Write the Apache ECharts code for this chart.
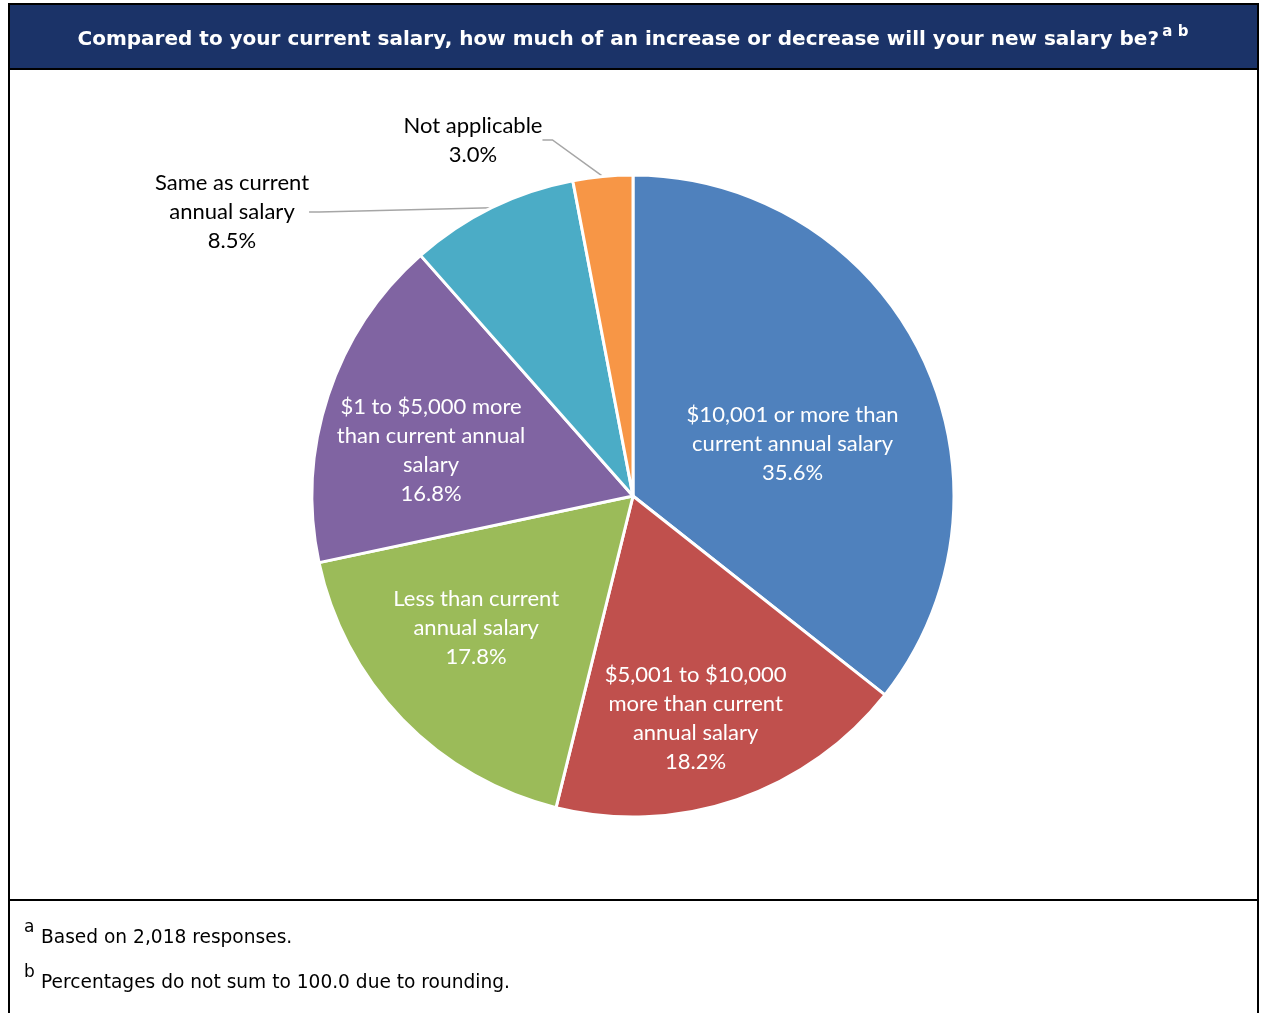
<!DOCTYPE html>
<html>
<head>
<meta charset="utf-8">
<script src="https://cdn.jsdelivr.net/npm/echarts@6/dist/echarts.min.js"></script>
<style>
html,body{margin:0;padding:0;background:#fff;}
#chart{width:1263px;height:1013px;}
</style>
</head>
<body>
<div id="chart"></div>
<script>
// ---- data ----
const categories = [
  "$10,001 or more than\ncurrent annual salary",
  "$5,001 to $10,000\nmore than current\nannual salary",
  "Less than current\nannual salary",
  "$1 to $5,000 more\nthan current annual\nsalary",
  "Same as current\nannual salary",
  "Not applicable"
];
const values = [35.6, 18.2, 17.8, 16.8, 8.5, 3.0];
const colors = ["#4F81BD", "#C0504D", "#9BBB59", "#8064A2", "#4BACC6", "#F79646"];
const insideIdx = [0, 1, 2, 3];
const titleText = "Compared to your current salary, how much of an increase or decrease will your new salary be?";
const titleSup = "a b";
const footnotes = [
  ["a", "Based on 2,018 responses."],
  ["b", "Percentages do not sum to 100.0 due to rounding."]
];

const LABEL_FONT = "Lato, 'Open Sans', sans-serif";
const cx = 633, cy = 496, R = 321;

const mainData = categories.map((c, i) => {
  const inside = insideIdx.includes(i);
  return {
    name: c,
    value: values[i],
    itemStyle: { color: colors[i] },
    label: inside ? { show: false } : { show: true },
    labelLine: { show: !inside }
  };
});
const overlayData = categories.map((c, i) => {
  const inside = insideIdx.includes(i);
  return {
    name: c,
    value: values[i],
    label: { show: inside }
  };
});

// small label nudges (Excel-like placement)
const insideNudge = { 0: [-28, 39], 1: [-5, 25], 2: [-7, -13], 3: [-4, 20] };

const chart = echarts.init(document.getElementById('chart'), null, { renderer: 'canvas' });
const graphic = [
  { type: 'rect', shape: { x: 9, y: 4, width: 1249, height: 65 }, style: { fill: '#1B3368' }, z: 1 },
  { type: 'line', shape: { x1: 9, y1: 4, x2: 1258, y2: 4 }, style: { stroke: '#000', lineWidth: 2 }, z: 2 },
  { type: 'line', shape: { x1: 9, y1: 69, x2: 1258, y2: 69 }, style: { stroke: '#000', lineWidth: 2 }, z: 2 },
  { type: 'line', shape: { x1: 9, y1: 900, x2: 1258, y2: 900 }, style: { stroke: '#000', lineWidth: 2 }, z: 2 },
  { type: 'line', shape: { x1: 9, y1: 3, x2: 9, y2: 1013 }, style: { stroke: '#000', lineWidth: 2 }, z: 2 },
  { type: 'line', shape: { x1: 1258, y1: 3, x2: 1258, y2: 1013 }, style: { stroke: '#000', lineWidth: 2 }, z: 2 },
  { type: 'text', x: 633, y: 40, style: {
      text: '{t|' + titleText + '} {s|' + titleSup + '}',
      textAlign: 'center', textVerticalAlign: 'middle',
      rich: {
        t: { fill: '#fff', font: "bold 20px 'DejaVu Sans', sans-serif", height: 26 },
        s: { fill: '#fff', font: "bold 15px 'DejaVu Sans', sans-serif", padding: [0, 0, 16, 0] }
      }
    }, z: 3 }
];
footnotes.forEach((f, i) => {
  const y = 938 + i * 45;
  graphic.push({ type: 'text', x: 24, y: y - 10, style: { text: f[0], fill: '#000', font: "17px 'DejaVu Sans', sans-serif", textVerticalAlign: 'middle' }, z: 3 });
  graphic.push({ type: 'text', x: 41, y: y, style: { text: f[1], fill: '#000', font: "18.6px 'DejaVu Sans', sans-serif", textVerticalAlign: 'middle' }, z: 3 });
});

chart.setOption({
  animation: false,
  backgroundColor: '#fff',
  graphic: graphic,
  series: [
    {
      type: 'pie',
      center: [cx, cy],
      radius: [0, R],
      startAngle: 90,
      clockwise: true,
      avoidLabelOverlap: false,
      itemStyle: { borderColor: '#fff', borderWidth: 3 },
      label: {
        position: 'outside',
        color: '#000',
        fontFamily: LABEL_FONT,
        fontSize: 22,
        lineHeight: 29,
        align: 'center',
        formatter: p => p.name + '\n' + p.value.toFixed(1) + '%'
      },
      labelLine: { length: 30, length2: 10, lineStyle: { color: '#A6A6A6', width: 1.5 } },
      labelLayout: function (p) {
        if (p.dataIndex === 5) return { x: 473, y: 140, align: 'center', verticalAlign: 'middle' };
        if (p.dataIndex === 4) return { x: 232, y: 212, align: 'center', verticalAlign: 'middle' };
      },
      data: mainData
    },
    {
      type: 'pie',
      silent: true,
      center: [cx, cy],
      radius: [Math.round(R * 0.28), R],
      startAngle: 90,
      clockwise: true,
      itemStyle: { color: 'rgba(0,0,0,0)', borderWidth: 0 },
      label: {
        position: 'inside',
        color: '#fff',
        fontFamily: LABEL_FONT,
        fontSize: 22,
        lineHeight: 29,
        align: 'center',
        formatter: p => p.name + '\n' + p.value.toFixed(1) + '%'
      },
      labelLayout: function (p) {
        const n = insideNudge[p.dataIndex];
        if (n) return { dx: n[0], dy: n[1] };
      },
      labelLine: { show: false },
      data: overlayData
    }
  ]
});
</script>
</body>
</html>
